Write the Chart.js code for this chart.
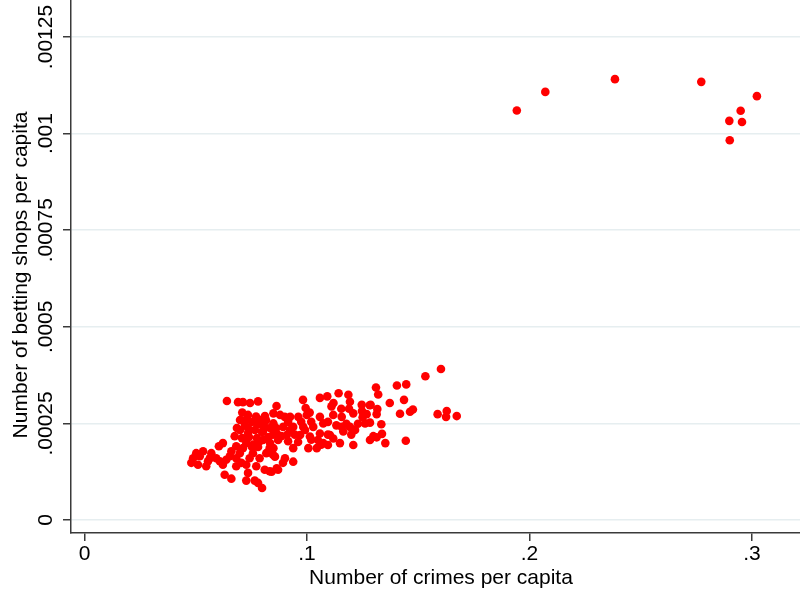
<!DOCTYPE html>
<html>
<head>
<meta charset="utf-8">
<script src="https://cdn.jsdelivr.net/npm/chart.js@4.4.1/dist/chart.umd.min.js"></script>
<style>
  html, body { margin: 0; padding: 0; background: #ffffff; }
  #wrap { width: 800px; height: 593px; position: relative; }
</style>
</head>
<body>
<div id="wrap"><canvas id="c" width="800" height="593"></canvas></div>
<script>
// ---- Data ----
const crimes = [
  0.1943, 0.2071, 0.2384, 0.2772, 0.3022, 0.2949, 0.2898, 0.2955, 0.2900,
  0.1602, 0.1532, 0.1310, 0.1320, 0.1404, 0.1446, 0.1436, 0.1372, 0.1286, 0.1316,
  0.1247, 0.1268, 0.1313, 0.1250, 0.1283, 0.1334, 0.1418, 0.1463, 0.1476, 0.1587,
  0.1628, 0.1625, 0.1673, 0.1298, 0.1283, 0.1313, 0.1337, 0.1352, 0.1444,
  0.0640, 0.0690, 0.0712, 0.0744, 0.0780, 0.0863, 0.0709, 0.0735, 0.0771, 0.0811, 0.0849,
  0.0982, 0.1058, 0.1091, 0.1142, 0.1186, 0.1119, 0.1193, 0.1110, 0.0879, 0.0924,
  0.0961, 0.0999, 0.1058, 0.1118, 0.1156, 0.1208, 0.1253, 0.1246, 0.0994, 0.1012,
  0.1154, 0.1189, 0.1282,
  0.0849, 0.0893, 0.0938, 0.0983, 0.1028, 0.1073, 0.1156, 0.1193, 0.1216, 0.1261,
  0.0864, 0.0909, 0.0969, 0.1013, 0.1058, 0.1103, 0.1163, 0.1118, 0.1148, 0.1208,
  0.1006, 0.1044, 0.1073, 0.0938, 0.0901, 0.0938, 0.0864, 0.0841, 0.0849, 0.0856,
  0.0900, 0.0915, 0.0974, 0.1019, 0.1094, 0.1132, 0.1177, 0.1229,
  0.0892, 0.0870, 0.1064, 0.0884, 0.0945, 0.1019, 0.1094, 0.1199,
  0.0675, 0.0622, 0.0604, 0.0735, 0.0802, 0.0847, 0.0727, 0.0757, 0.0787, 0.0832,
  0.0847, 0.0817, 0.0787, 0.0757, 0.0712, 0.0698, 0.0682, 0.0660, 0.0653, 0.0637,
  0.0608, 0.0592, 0.0570, 0.0563, 0.0533, 0.0518, 0.0502, 0.0488, 0.0480, 0.0510,
  0.0547, 0.0555, 0.0622, 0.0682, 0.0705, 0.0727, 0.0772, 0.0742, 0.0630, 0.0660,
  0.0735, 0.0727, 0.0765, 0.0780, 0.0798, 0.0832, 0.0810, 0.0682,
  0.0726, 0.0753, 0.0780, 0.0807, 0.0834, 0.0735, 0.0766, 0.0798, 0.0825, 0.0739,
  0.0775, 0.0721, 0.0789, 0.0816, 0.0753, 0.0802, 0.0708, 0.0861, 0.0870, 0.0834,
  0.0685, 0.0699,
  0.0915, 0.0960, 0.0780, 0.0924, 0.0991, 0.1049, 0.1094, 0.0699
];
const shops = [
  0.001060, 0.001108, 0.001141, 0.001134, 0.001097, 0.001059, 0.001033, 0.001030, 0.000983,
  0.000391, 0.000372, 0.000343, 0.000325, 0.000348, 0.000351, 0.000311, 0.000303, 0.000298, 0.000287,
  0.000282, 0.000274, 0.000274, 0.000266, 0.000252, 0.000248, 0.000275, 0.000280, 0.000286, 0.000274,
  0.000282, 0.000267, 0.000269, 0.000217, 0.000207, 0.000214, 0.000223, 0.000199, 0.000205,
  0.000308, 0.000305, 0.000305, 0.000303, 0.000307, 0.000295, 0.000278, 0.000272, 0.000268, 0.000269, 0.000276,
  0.000311, 0.000316, 0.000320, 0.000328, 0.000324, 0.000303, 0.000306, 0.000294, 0.000272, 0.000267,
  0.000267, 0.000272, 0.000267, 0.000272, 0.000267, 0.000276, 0.000276, 0.000298, 0.000290, 0.000278,
  0.000288, 0.000288, 0.000297,
  0.000250, 0.000241, 0.000241, 0.000241, 0.000241, 0.000250, 0.000241, 0.000241, 0.000233, 0.000250,
  0.000224, 0.000220, 0.000220, 0.000216, 0.000224, 0.000220, 0.000229, 0.000211, 0.000199, 0.000194,
  0.000186, 0.000186, 0.000199, 0.000186, 0.000160, 0.000151, 0.000134, 0.000125, 0.000186, 0.000164,
  0.000267, 0.000254, 0.000254, 0.000254, 0.000254, 0.000245, 0.000249, 0.000249,
  0.000148, 0.000130, 0.000195, 0.000217, 0.000221, 0.000208, 0.000221, 0.000221,
  0.000217, 0.000199, 0.000191, 0.000225, 0.000230, 0.000221, 0.000199, 0.000195, 0.000204, 0.000186,
  0.000169, 0.000173, 0.000160, 0.000173, 0.000186, 0.000173, 0.000160, 0.000178, 0.000165, 0.000156,
  0.000152, 0.000160, 0.000173, 0.000160, 0.000178, 0.000165, 0.000173, 0.000160, 0.000148, 0.000143,
  0.000139, 0.000152, 0.000143, 0.000139, 0.000148, 0.000143, 0.000139, 0.000160, 0.000117, 0.000107,
  0.000122, 0.000102, 0.000102, 0.000096, 0.000083, 0.000126, 0.000130, 0.000191,
  0.000259, 0.000254, 0.000248, 0.000243, 0.000238, 0.000238, 0.000233, 0.000228, 0.000215, 0.000215,
  0.000212, 0.000246, 0.000259, 0.000258, 0.000189, 0.000207, 0.000212, 0.000238, 0.000207, 0.000199,
  0.000238, 0.000259,
  0.000204, 0.000202, 0.000189, 0.000233, 0.000233, 0.000207, 0.000194, 0.000233
];
const xTicks = [0, 0.1, 0.2, 0.3];
const xTickLabels = ["0", ".1", ".2", ".3"];
const yTicks = [0, 0.00025, 0.0005, 0.00075, 0.001, 0.00125];
const yTickLabels = ["0", ".00025", ".0005", ".00075", ".001", ".00125"];
const xTitle = "Number of crimes per capita";
const yTitle = "Number of betting shops per capita";

const points = crimes.map((c, i) => ({ x: c, y: shops[i] }));

const FONT = "'Liberation Sans', Arial, Helvetica, sans-serif";
const AXIS_COLOR = '#3a3a3a';
const GRID_COLOR = '#e6eef0';

const textPlugin = {
  id: 'stataText',
  afterDraw(chart) {
    const ctx = chart.ctx;
    const xs = chart.scales.x, ys = chart.scales.y;
    ctx.save();
    ctx.fillStyle = '#000';
    ctx.font = '21px ' + FONT;
    yTicks.forEach((v, i) => {
      const p = ys.getPixelForValue(v);
      ctx.save();
      ctx.translate(52, p);
      ctx.rotate(-Math.PI / 2);
      ctx.textAlign = 'center';
      ctx.textBaseline = 'alphabetic';
      ctx.fillText(yTickLabels[i], 0, 0);
      ctx.restore();
    });
    ctx.textAlign = 'center';
    ctx.textBaseline = 'alphabetic';
    xTicks.forEach((v, i) => {
      ctx.fillText(xTickLabels[i], xs.getPixelForValue(v), 560);
    });
    ctx.fillText(xTitle, 441, 584);
    ctx.save();
    ctx.translate(27, 275);
    ctx.rotate(-Math.PI / 2);
    ctx.fillText(yTitle, 0, 0);
    ctx.restore();
    ctx.restore();
  }
};

new Chart(document.getElementById('c'), {
  type: 'scatter',
  data: {
    datasets: [{
      data: points,
      backgroundColor: '#ff0000',
      borderColor: '#ff0000',
      borderWidth: 0,
      pointRadius: 4.3,
      pointHoverRadius: 4.3
    }]
  },
  options: {
    responsive: false,
    animation: false,
    devicePixelRatio: 1,
    layout: { padding: 0, autoPadding: false },
    plugins: { legend: { display: false }, tooltip: { enabled: false } },
    scales: {
      x: {
        type: 'linear',
        position: 'bottom',
        min: -0.00607,
        max: 0.32157,
        afterBuildTicks: (axis) => { axis.ticks = xTicks.map(v => ({ value: v })); },
        afterFit: (axis) => { axis.height = 60; },
        ticks: { display: false },
        grid: { drawOnChartArea: false, drawTicks: true, tickLength: 8, tickColor: AXIS_COLOR, color: AXIS_COLOR, lineWidth: 1.5 },
        border: { display: true, color: AXIS_COLOR, width: 1.5 }
      },
      y: {
        type: 'linear',
        position: 'left',
        min: -0.0000336,
        max: 0.0013458,
        afterBuildTicks: (axis) => { axis.ticks = yTicks.map(v => ({ value: v })); },
        afterFit: (axis) => { axis.width = 71; },
        ticks: { display: false },
        grid: { drawOnChartArea: true, drawTicks: true, tickLength: 8, tickColor: AXIS_COLOR, color: GRID_COLOR, lineWidth: 1.5 },
        border: { display: true, color: AXIS_COLOR, width: 1.5 }
      }
    }
  },
  plugins: [textPlugin]
});
</script>
</body>
</html>
